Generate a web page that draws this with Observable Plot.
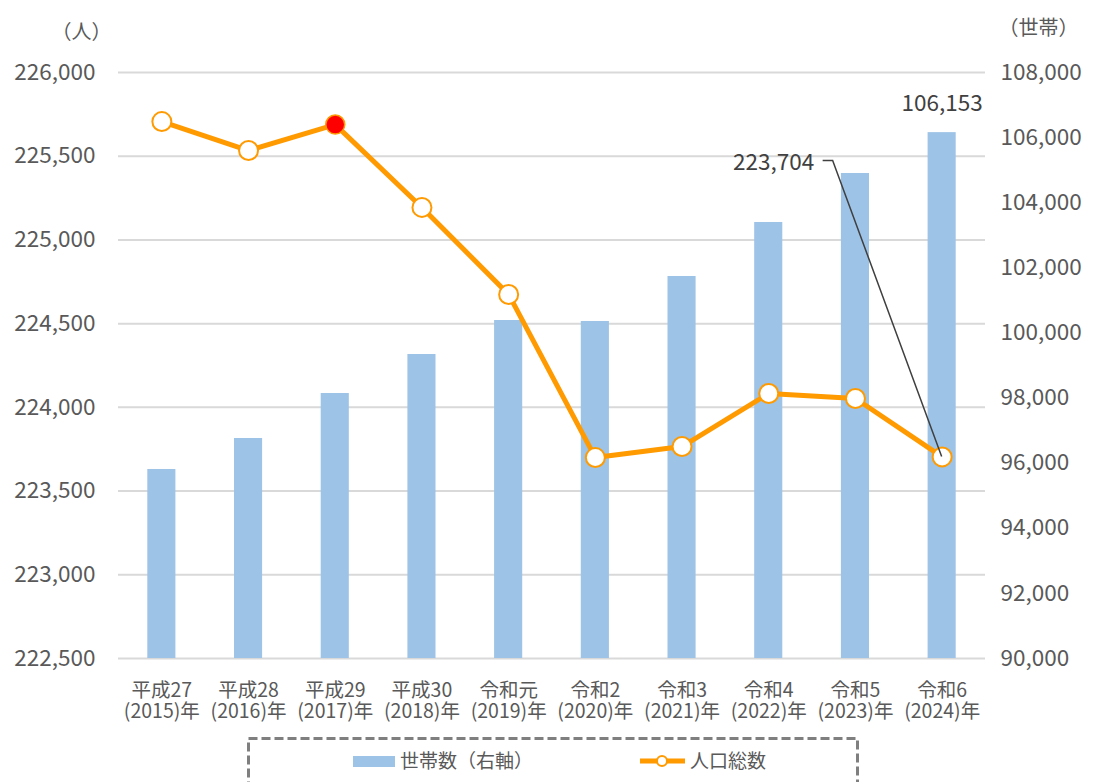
<!DOCTYPE html>
<html>
<head>
<meta charset="utf-8">
<script src="https://cdn.jsdelivr.net/npm/d3@7"></script>
<script src="https://cdn.jsdelivr.net/npm/@observablehq/plot@0.6"></script>
<style>
  html, body { margin: 0; padding: 0; background: #fff; }
  body { width: 1093px; height: 782px; overflow: hidden; font-family: "Noto Sans CJK JP", "Noto Sans", sans-serif; }
  #chart svg { display: block; }
  #legend { display: block; }
</style>
</head>
<body>
<div id="chart"></div>
<svg id="legend" width="1093" height="47"></svg>
<script>
// ---- data ----
const yearLabels = [
  "平成27\n(2015)年", "平成28\n(2016)年", "平成29\n(2017)年", "平成30\n(2018)年", "令和元\n(2019)年",
  "令和2\n(2020)年", "令和3\n(2021)年", "令和4\n(2022)年", "令和5\n(2023)年", "令和6\n(2024)年"
];
const population = [225707, 225534, 225689, 225194, 224674, 223700, 223766, 224083, 224053, 223704];
const households = [95806, 96758, 98140, 99338, 100382, 100352, 101734, 103393, 104898, 106153];
const highlightYear = "平成29\n(2017)年";
const leftTicks = [222500, 223000, 223500, 224000, 224500, 225000, 225500, 226000];
const rightTicks = [90000, 92000, 94000, 96000, 98000, 100000, 102000, 104000, 106000, 108000];
const leftUnit = "（人）";
const rightUnit = "（世帯）";
const legendHouseholds = "世帯数（右軸）";
const legendPopulation = "人口総数";

// ---- dual axis mapping ----
const leftDomain = [222500, 226000];
const rightDomain = [90000, 108000];
const k = (leftDomain[1] - leftDomain[0]) / (rightDomain[1] - rightDomain[0]);
const toLeft = h => leftDomain[0] + (h - rightDomain[0]) * k;
const fromLeft = v => rightDomain[0] + (v - leftDomain[0]) / k;
const fmt = d3.format(",");

const rows = yearLabels.map((label, i) => ({
  label, pop: population[i], hh: households[i], hhY: toLeft(households[i])
}));
const last = rows[rows.length - 1];

const ORANGE = "#FF9A00";
const BLUE = "#9DC3E6";
const TEXT = "#595959";
const DARK = "#404040";
const FONT = '"Noto Sans CJK JP", "Noto Sans", sans-serif';

function leader(index, scales) {
  const x = scales.x(last.label) + scales.x.bandwidth() / 2;
  const y = scales.y(last.pop);
  const path = d3.path();
  path.moveTo(x - 119, y - 296);
  path.lineTo(x - 109, y - 296);
  path.lineTo(x, y);
  return d3.create("svg:path")
    .attr("d", path.toString())
    .attr("fill", "none")
    .attr("stroke", DARK)
    .attr("stroke-width", 1.5)
    .node();
}

const chart = Plot.plot({
  width: 1093,
  height: 735,
  marginTop: 72,
  marginBottom: 77,
  marginLeft: 118,
  marginRight: 108,
  style: { fontFamily: FONT, fontSize: "22px", color: TEXT, background: "white" },
  x: { domain: yearLabels, padding: 0, round: false, label: null },
  y: { domain: leftDomain, label: null },
  marks: [
    Plot.gridY(leftTicks, { stroke: "#d9d9d9", strokeOpacity: 1, strokeWidth: 2 }),
    Plot.barY(rows, { x: "label", y1: leftDomain[0], y2: "hhY", fill: BLUE, insetLeft: 29.3, insetRight: 29.3 }),
    Plot.line(rows, { x: "label", y: "pop", stroke: ORANGE, strokeWidth: 5, strokeLinejoin: "round" }),
    Plot.dot(rows.filter(d => d.label !== highlightYear), { x: "label", y: "pop", r: 9.5, fill: "white", stroke: ORANGE, strokeWidth: 2 }),
    Plot.dot(rows.filter(d => d.label === highlightYear), { x: "label", y: "pop", r: 9.5, fill: "#FF0000", stroke: ORANGE, strokeWidth: 1.5 }),
    Plot.text([last], { x: "label", y: "hhY", text: d => fmt(d.hh), dy: -29, fill: DARK, fontSize: 22.5 }),
    Plot.text([last], { x: "label", y: "pop", text: d => fmt(d.pop), dx: -128, dy: -294, textAnchor: "end", fill: DARK, fontSize: 22.5 }),
    leader,
    Plot.axisY(leftTicks, { anchor: "left", tickSize: 0, tickPadding: 23, tickFormat: fmt, fontSize: 22.5, fill: TEXT, label: null }),
    Plot.axisY(rightTicks.map(toLeft), { anchor: "right", tickSize: 0, tickPadding: 15, tickFormat: d => fmt(Math.round(fromLeft(d))), fontSize: 22.5, fill: TEXT, label: null }),
    Plot.axisX({ tickSize: 0, tickPadding: 25, fontSize: 19.5, fill: TEXT, label: null, tickFormat: d => d.split("\n")[0] }),
    Plot.axisX({ tickSize: 0, tickPadding: 46, fontSize: 19.5, fill: TEXT, label: null, tickFormat: d => d.split("\n")[1] }),
    Plot.text([leftUnit], { frameAnchor: "top-left", textAnchor: "middle", lineAnchor: "middle", dx: -37, dy: -40, fill: TEXT, fontSize: 20 }),
    Plot.text([rightUnit], { frameAnchor: "top-right", textAnchor: "middle", lineAnchor: "middle", dx: 53, dy: -44, fill: TEXT, fontSize: 20 })
  ]
});
document.getElementById("chart").appendChild(chart);

// ---- legend (below the plot) ----
const lg = d3.select("#legend");
lg.append("rect")
  .attr("x", 248.5).attr("y", 3.5).attr("width", 609).attr("height", 80)
  .attr("fill", "none").attr("stroke", "#7f7f7f").attr("stroke-width", 3)
  .attr("stroke-dasharray", "9,4");
lg.append("rect").attr("x", 353).attr("y", 21).attr("width", 42).attr("height", 11).attr("fill", BLUE);
lg.append("text").attr("x", 400).attr("y", 26).attr("dy", "0.35em")
  .attr("font-size", 19).attr("fill", TEXT).attr("font-family", FONT)
  .text(legendHouseholds);
lg.append("line").attr("x1", 640).attr("x2", 685).attr("y1", 26).attr("y2", 26)
  .attr("stroke", ORANGE).attr("stroke-width", 5);
lg.append("circle").attr("cx", 662).attr("cy", 26).attr("r", 5)
  .attr("fill", "white").attr("stroke", ORANGE).attr("stroke-width", 2);
lg.append("text").attr("x", 690).attr("y", 26).attr("dy", "0.35em")
  .attr("font-size", 19).attr("fill", TEXT).attr("font-family", FONT)
  .text(legendPopulation);
</script>
</body>
</html>
